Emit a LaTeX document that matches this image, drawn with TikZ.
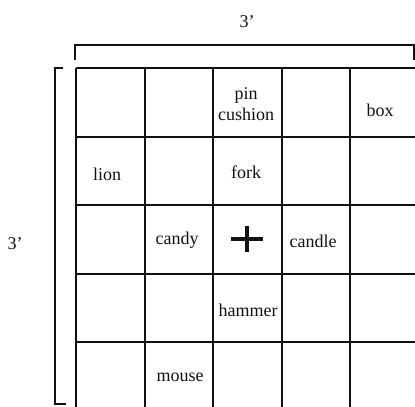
\documentclass[tikz,border=0pt]{standalone}
\usepackage{fontspec}
\setmainfont{Liberation Serif}
\usepackage{xcolor}
\definecolor{cInk}{HTML}{111111}
\usetikzlibrary{positioning}
\tikzset{
  grid-line/.style={draw=cInk,line width=1pt},
  bracket-line/.style={draw=cInk,line width=0.9pt},
  item-label/.style={font=\fontsize{9}{10.8}\selectfont,text=cInk,
    align=center,inner sep=0pt},
  dim-label/.style={font=\fontsize{9}{10.8}\selectfont,text=cInk,inner sep=0pt},
  center-mark/.style={draw=cInk,line width=2pt},
}

\begin{document}
\begin{tikzpicture}[x=0.5pt,y=-0.5pt]
  \clip (0,0) rectangle (415,406);
  % grid of 5 x 5 cells, cut off at the right and bottom
  \foreach \i in {0,...,5} {
    \draw[grid-line] (76+68.5*\i,68) -- (76+68.5*\i,420);
    \draw[grid-line] (76,68+68.5*\i) -- (430,68+68.5*\i);
  }
  % dimension brackets
  \draw[bracket-line] (75,60) -- (75,45) -- (414,45) -- (414,60);
  \draw[bracket-line] (63,68) -- (55,68) -- (55,404) -- (66,404);
  \node[dim-label] (dim-top)  at (247,22)  {3'};
  \node[dim-label] (dim-left) at (15,244) {3'};
  % objects in the cells
  \node[item-label] (pin)    at (246,104) {pin\\cushion};
  \node[item-label] (box)    at (380,110) {box};
  \node[item-label] (lion)   at (107,174) {lion};
  \node[item-label] (fork)   at (246,172) {fork};
  \node[item-label] (candy)  at (177,240) {candy};
  \node[item-label] (candle) at (313,241) {candle};
  \node[item-label] (hammer) at (248,310) {hammer};
  \node[item-label] (mouse)  at (180,377) {mouse};
  % centre mark
  \coordinate (mid) at (247,239);
  \draw[center-mark] ([xshift=-8pt]mid) -- ([xshift=8pt]mid);
  \draw[center-mark] ([yshift=6.5pt]mid) -- ([yshift=-6.5pt]mid);
\end{tikzpicture}
\end{document}
